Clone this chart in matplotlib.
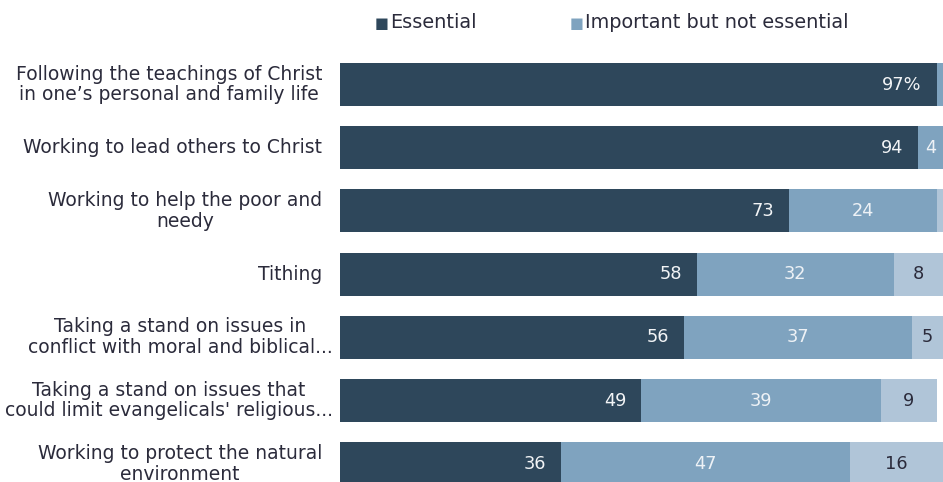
import matplotlib
matplotlib.use("Agg")
import matplotlib.pyplot as plt
import numpy as np

categories = [
    "Following the teachings of Christ\nin one\u2019s personal and family life",
    "Working to lead others to Christ",
    "Working to help the poor and\nneedy",
    "Tithing",
    "Taking a stand on issues in\nconflict with moral and biblical...",
    "Taking a stand on issues that\ncould limit evangelicals' religious...",
    "Working to protect the natural\nenvironment",
]
essential = [97, 94, 73, 58, 56, 49, 36]
important = [2, 4, 24, 32, 37, 39, 47]
other = [1, 2, 3, 8, 5, 9, 16]
ess_labels = ["97%", "94", "73", "58", "56", "49", "36"]
imp_labels = ["", "4", "24", "32", "37", "39", "47"]
oth_labels = ["", "", "", "8", "5", "9", "16"]

series_names = ["Essential", "Important but not essential"]
c_dark = "#2e475b"
c_mid = "#7fa3bf"
c_light = "#b0c5d8"
txt = "#2b2b3b"

W, H = 943, 482
fig = plt.figure(figsize=(W / 100, H / 100), dpi=100)
fig.patch.set_facecolor("white")
left_px, full_px = 340, 615
top_px = 84.5 - 0.5 * 63.2
bot_px = 84.5 + 6.5 * 63.2
ax = fig.add_axes([left_px / W, 1 - bot_px / H, full_px / W, (bot_px - top_px) / H])
ax.set_xlim(0, 100)
ax.set_ylim(6.5, -0.5)

y = np.arange(len(categories))
h = 43 / 63.2
ess = np.array(essential)
imp = np.array(important)
oth = np.array(other)
ax.barh(y, ess, height=h, color=c_dark, linewidth=0)
ax.barh(y, imp, left=ess, height=h, color=c_mid, linewidth=0)
ax.barh(y, oth, left=ess + imp, height=h, color=c_light, linewidth=0)

fs_cat = 13.5
fs_val = 12.8
fs_leg = 13.9
xmax_vis = 100 * (W - left_px) / full_px
for i in range(len(y)):
    ax.annotate(ess_labels[i], xy=(ess[i], y[i]), xytext=(-15, 0), textcoords="offset pixels",
                ha="right", va="center", color="#f2f4f6", fontsize=fs_val)
    if imp_labels[i]:
        a = ess[i]
        b = min(ess[i] + imp[i], xmax_vis)
        ax.text((a + b) / 2, y[i], imp_labels[i], ha="center", va="center", color="#eef2f6", fontsize=fs_val)
    if oth_labels[i]:
        a = ess[i] + imp[i]
        b = min(ess[i] + imp[i] + oth[i], xmax_vis)
        ax.text((a + b) / 2, y[i], oth_labels[i], ha="center", va="center", color=txt, fontsize=fs_val)

# category labels (truncated labels overflow a bit further right, as in the source)
ax.set_yticks([])
for i, lab in enumerate(categories):
    off = 7 if lab.endswith("...") else 18
    ax.annotate(lab, xy=(0, y[i]), xycoords=ax.get_yaxis_transform(),
                xytext=(-off, 0), textcoords="offset pixels",
                ha="right", va="center", multialignment="center",
                fontsize=fs_cat, color=txt, linespacing=1.12)
ax.set_xticks([])
for s in ax.spines.values():
    s.set_visible(False)

# legend
ly = 1 - 23 / H
fig.text(375 / W, ly, "\u25a0", color=c_dark, fontsize=10.5, va="center", ha="left")
fig.text(390 / W, ly, series_names[0], color=txt, fontsize=fs_leg, va="center", ha="left")
fig.text(570 / W, ly, "\u25a0", color=c_mid, fontsize=10.5, va="center", ha="left")
fig.text(585 / W, ly, series_names[1], color=txt, fontsize=fs_leg, va="center", ha="left")

fig.savefig("out.png", dpi=100, facecolor="white")
